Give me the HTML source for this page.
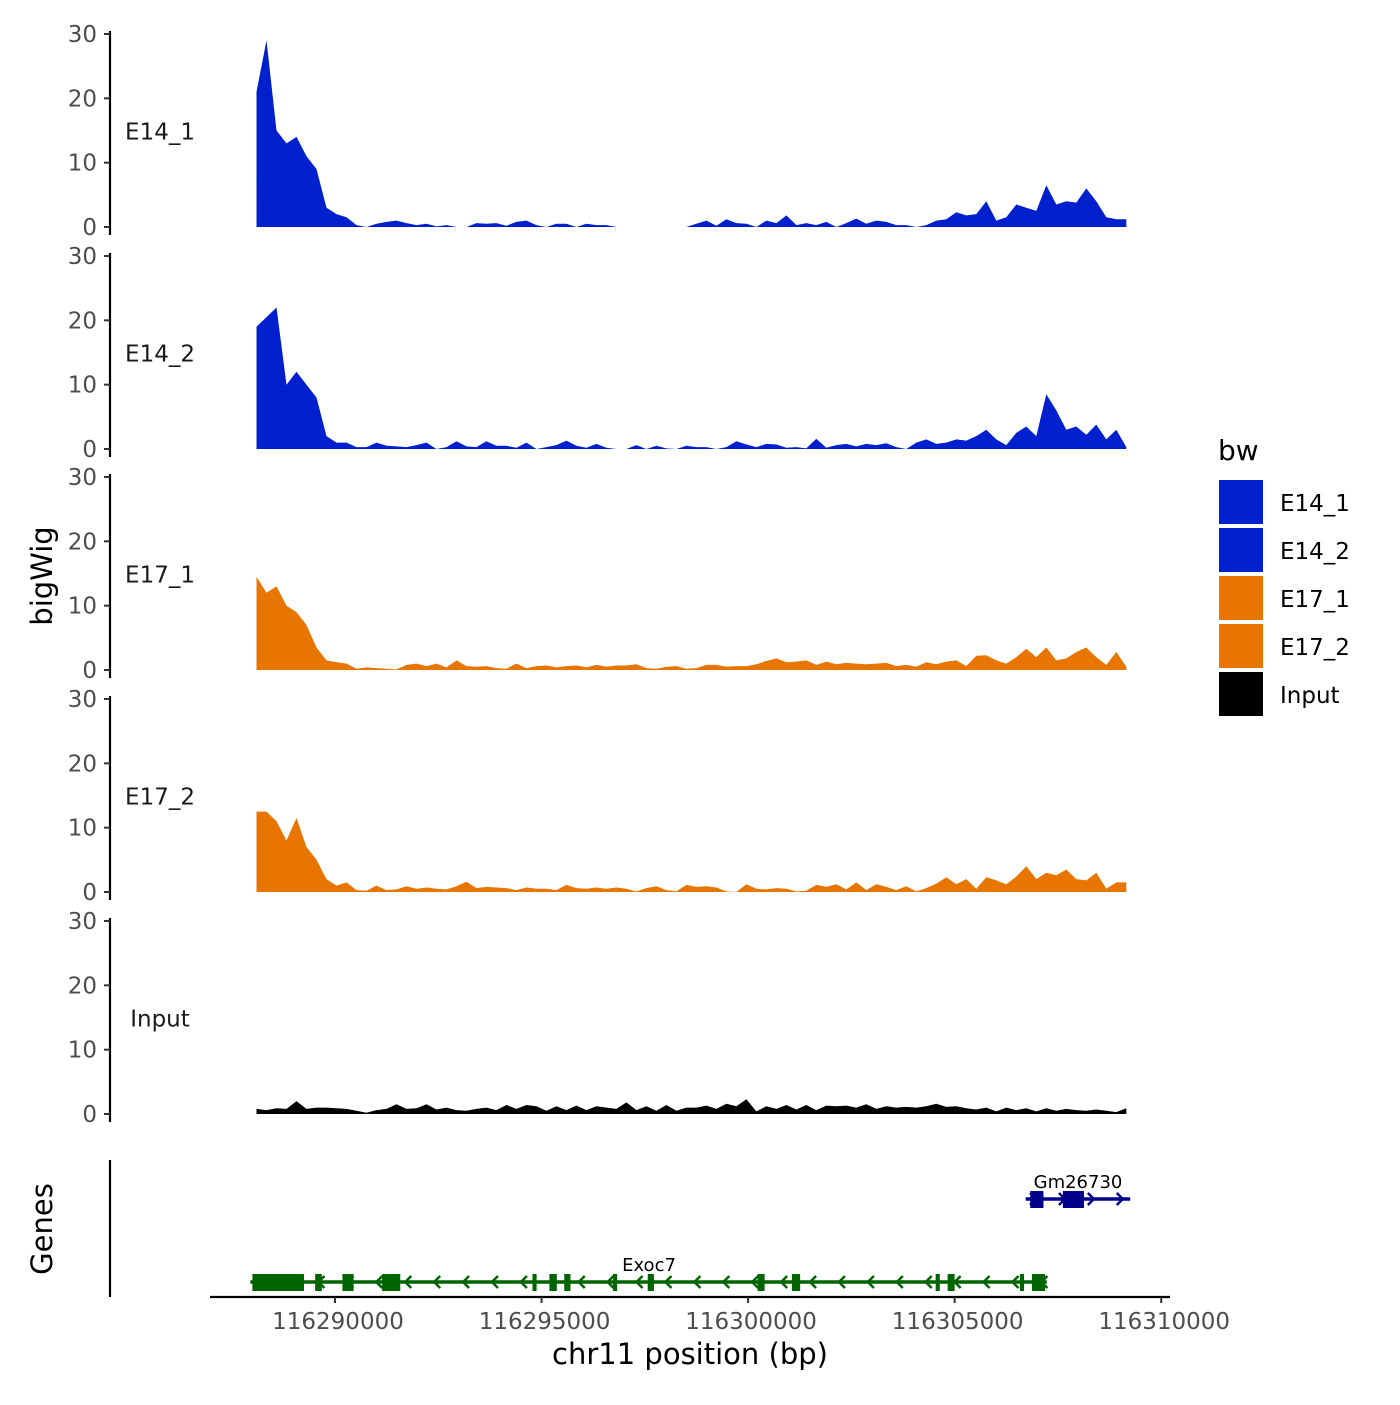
<!DOCTYPE html>
<html><head><meta charset="utf-8"><style>
body{margin:0;background:#fff;font-family:"Liberation Sans","DejaVu Sans",sans-serif}
svg text{font-family:"DejaVu Sans","Liberation Sans",sans-serif}
</style></head><body>
<svg id="chart" width="1400" height="1400" xmlns="http://www.w3.org/2000/svg">
<rect width="1400" height="1400" fill="#fff"/>
<g id="tracks"></g><g id="genes"></g><g id="axes"></g><g id="legend"></g>
</svg>
<script>
const trackNames=["E14_1","E14_2","E17_1","E17_2","Input"];
const trackColors=["#0020CD","#0020CD","#E87500","#E87500","#000000"];
const binStart=116288100, binStep=242;
const e14_1=[21,29,15,13,14,11,9,3,2,1.5,0.3,0,0.5,0.8,1,0.6,0.3,0.5,0.1,0.3,0,0,0.6,0.5,0.6,0.2,0.8,1,0.3,0,0.5,0.5,0,0.5,0.3,0.3,0,0,0,0,0,0,0,0,0.5,1,0.2,1.2,0.6,0.5,0,1,0.6,1.8,0.3,0.6,0.3,0.8,0,0.6,1.3,0.5,1,0.8,0.3,0.3,0,0.3,1,1.2,2.3,1.8,2,4,1,1.5,3.5,3,2.5,6.5,3.5,4,3.8,6,4,1.5,1.2,1.2];
const e14_2=[19,20.5,22,10,12,10,8,2,1,1,0.3,0.3,1,0.5,0.4,0.3,0.6,1,0,0.3,1.2,0.4,0.3,1.2,0.5,0.5,0.2,1,0,0.3,0.6,1.3,0.5,0.2,0.8,0.2,0,0,0.6,0,0.5,0.1,0,0.5,0.3,0.3,0,0.3,1.2,0.7,0.3,0.8,0.7,0.2,0.3,0.1,1.6,0.2,0.6,0.8,0.4,0.8,0.6,0.9,0.3,0,1,1.5,0.8,1,1.5,1.3,2,3,1.5,0.6,2.5,3.5,2,8.5,6,3,3.5,2.2,3.8,1.5,3,0.3];
const e17_1=[14.5,12,13,10,9,7,3.5,1.5,1.2,1,0.2,0.4,0.3,0.2,0.1,0.8,1,0.6,1,0.4,1.5,0.6,0.5,0.6,0.3,0.2,1,0.3,0.6,0.7,0.4,0.6,0.7,0.4,0.8,0.5,0.7,0.7,0.9,0.3,0.2,0.5,0.6,0.2,0.3,0.8,0.8,0.5,0.6,0.6,0.9,1.4,1.8,1.2,1.3,1.5,0.8,1.3,0.9,1.1,1,0.9,1,1.1,0.6,0.8,0.5,1.2,0.9,1.3,1.5,0.6,2.2,2.3,1.5,1,2,3.3,2,3.5,1.5,1.8,2.8,3.5,2,0.8,2.8,0.5];
const e17_2=[12.5,12.5,11,8,11.5,7,5,2,1,1.5,0.3,0.2,1,0.3,0.4,0.9,0.5,0.7,0.5,0.4,0.9,1.6,0.6,0.8,0.7,0.6,0.3,0.7,0.5,0.5,0.3,1.1,0.6,0.5,0.7,0.5,0.7,0.5,0.1,0.6,0.9,0.3,0.1,1.1,0.8,0.9,0.7,0.1,0,1.2,0.5,0.4,0.6,0.5,0.1,0.2,1.1,0.8,1.2,0.4,1.5,0.3,1.2,0.8,0.3,0.9,0.1,0.6,1.3,2.3,1.2,2,0.5,2.3,1.8,1.2,2.4,4,2,3,2.6,3.5,2,1.8,3,0.5,1.5,1.5];
const input=[0.8,0.6,0.9,0.8,2,0.8,1,1,0.9,0.8,0.5,0.2,0.6,0.8,1.5,0.8,0.9,1.5,0.7,1,0.6,0.5,0.8,1,0.6,1.4,0.8,1.4,1.2,0.5,1.2,0.6,1.3,0.6,1.2,1,0.8,1.8,0.6,1.2,0.5,1.4,0.5,1,1,1.3,0.8,1.6,1.2,2.3,0.4,1.2,0.8,1.4,0.7,1.4,0.6,1.3,1.2,1.3,1,1.5,0.8,1.2,1,1.1,1,1.2,1.6,1.1,1.2,0.9,0.7,1,0.4,1,0.6,0.9,0.4,0.9,0.5,0.8,0.6,0.5,0.7,0.5,0.3,0.9];
const trackValues=[e14_1,e14_2,e17_1,e17_2,input];
const yTicks=[0,10,20,30];
const xTicks=[116290000,116295000,116300000,116305000,116310000];
const exoc7Exons=[[116288000,116289250],[116289520,116289680],[116290180,116290450],[116291140,116291580],[116294780,116294880],[116295190,116295370],[116295550,116295700],[116296730,116296830],[116297570,116297720],[116300230,116300400],[116301060,116301260],[116304540,116304640],[116304830,116305000],[116306580,116306680],[116306870,116307190]];
const exoc7Range=[116287950,116307230];
const gmExons=[[116306830,116307150],[116307620,116308130]];
const gmRange=[116306720,116309250];

const NS="http://www.w3.org/2000/svg";
function mk(tag,attrs,parent){const e=document.createElementNS(NS,tag);for(const k in attrs)e.setAttribute(k,attrs[k]);parent.appendChild(e);return e;}
const xScale=bp=>335+(bp-116290000)*0.04131;
const panelBase=[227,449,670,892,1114];
const yScale=(p,v)=>panelBase[p]-v*193/30;
const G=document.getElementById('tracks'),A=document.getElementById('axes'),GN=document.getElementById('genes'),L=document.getElementById('legend');

trackValues.forEach((vals,p)=>{
  let d=`M${xScale(binStart)},${panelBase[p]}`;
  vals.forEach((v,i)=>{d+=` L${xScale(binStart+i*binStep).toFixed(1)},${yScale(p,v).toFixed(1)}`;});
  d+=` L${xScale(binStart+(vals.length-1)*binStep).toFixed(1)},${panelBase[p]} Z`;
  const path=mk('path',{d:d,fill:trackColors[p],'stroke-linejoin':'round'},G);
  
  
  const ax=mk('line',{x1:110,x2:110,y1:yScale(p,30)-3,y2:panelBase[p]+8,stroke:'#000','stroke-width':2.2},A);
  
  
  yTicks.forEach(t=>{
    const y=yScale(p,t);
    mk('line',{x1:104,x2:110,y1:y,y2:y,stroke:'#333','stroke-width':2},A);
    const tx=mk('text',{x:97,y:y+8,'text-anchor':'end','font-size':23,fill:'#4d4d4d'},A);
    tx.textContent=t;
    
    
  });
  const lab=mk('text',{x:160,y:(panelBase[p]+yScale(p,30))/2+9,'text-anchor':'middle','font-size':23,fill:'#1a1a1a'},A);
  lab.textContent=trackNames[p];
  
  
});

let t=mk('text',{x:0,y:0,'text-anchor':'middle','font-size':29,fill:'#000',transform:'translate(52,576) rotate(-90)'},A);t.textContent='bigWig';


t=mk('text',{x:0,y:0,'text-anchor':'middle','font-size':29,fill:'#000',transform:'translate(52,1229) rotate(-90)'},A);t.textContent='Genes';


mk('line',{x1:110,x2:110,y1:1160,y2:1297,stroke:'#000','stroke-width':2.2},A);
mk('line',{x1:210,x2:1170,y1:1297,y2:1297,stroke:'#000','stroke-width':2.2},A);
xTicks.forEach(b=>{
  const x=xScale(b);
  mk('line',{x1:x,x2:x,y1:1297,y2:1303,stroke:'#333','stroke-width':2},A);
  const tx=mk('text',{x:x+3,y:1329,'text-anchor':'middle','font-size':23,fill:'#4d4d4d'},A);tx.textContent=b;
  
  
});
t=mk('text',{x:690,y:1364,'text-anchor':'middle','font-size':29,fill:'#000'},A);t.textContent='chr11 position (bp)';



function gene(range,exons,y,col,dir,name,lx){
  const g=mk('g',{},GN);
  
  
  mk('line',{x1:xScale(range[0]),x2:xScale(range[1]),y1:y,y2:y,stroke:col,'stroke-width':3.5},g);
  for(let b=range[0]+250;b<range[1];b+=700){
    const x=xScale(b);
    mk('polyline',{points:`${x+6*dir},${y-6} ${x},${y} ${x+6*dir},${y+6}`,fill:'none',stroke:col,'stroke-width':2.5},g);
  }
  exons.forEach(e=>mk('rect',{x:xScale(e[0]),y:y-8,width:xScale(e[1])-xScale(e[0]),height:17,fill:col},g));
  const tx=mk('text',{x:lx,y:y-11,'text-anchor':'middle','font-size':18,fill:'#000'},g);tx.textContent=name;
}
gene(exoc7Range,exoc7Exons,1282,'#006400',1,'Exoc7',649);
gene(gmRange,gmExons,1199,'#00008B',-1,'Gm26730',1078);

t=mk('text',{x:1218,y:460,'font-size':28,fill:'#000'},L);t.textContent='bw';


trackNames.forEach((n,i)=>{
  const y=480+i*48;
  const r=mk('rect',{x:1219,y:y,width:44,height:44,fill:trackColors[i]},L);
  
  
  const tx=mk('text',{x:1280,y:y+31,'font-size':23,fill:'#000'},L);tx.textContent=n;
  
  
});
</script>
</body></html>
